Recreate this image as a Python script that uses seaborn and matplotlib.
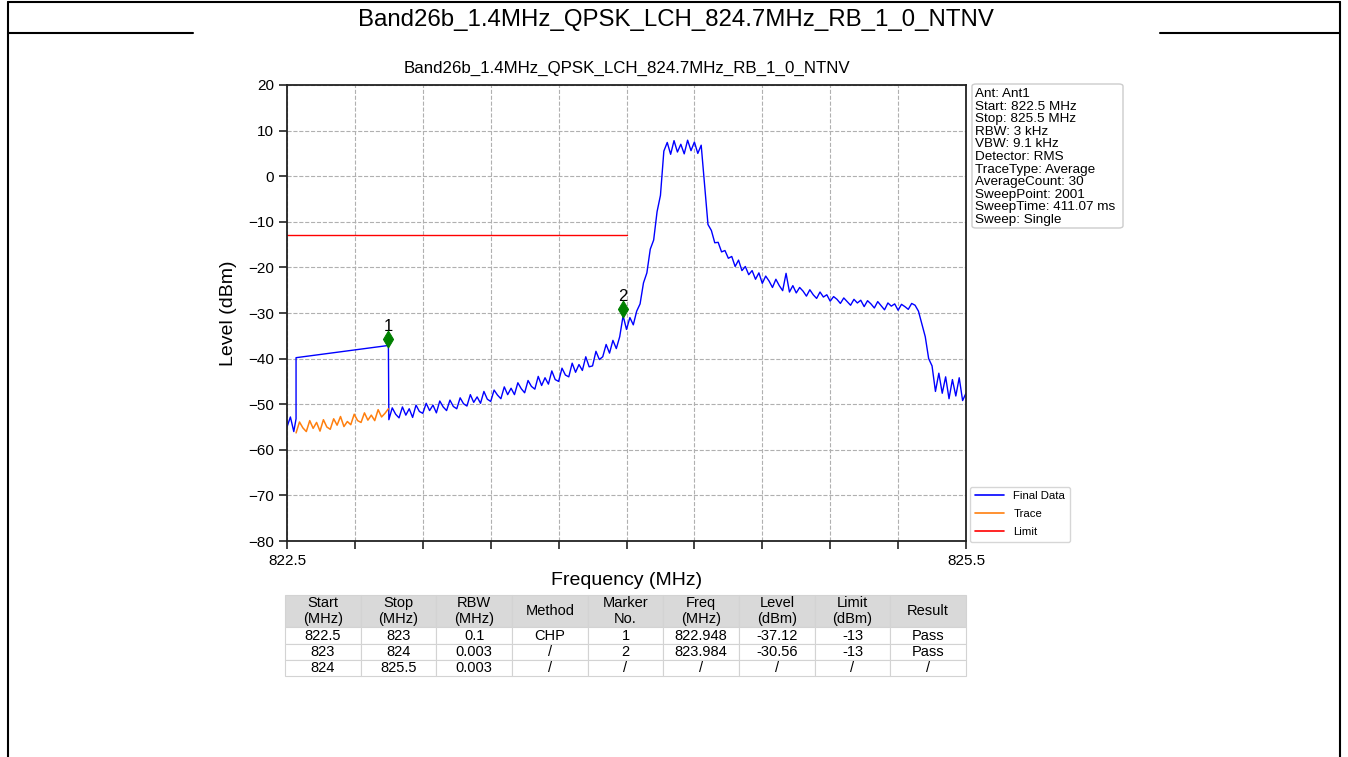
import matplotlib.pyplot as plt
import numpy as np
import pandas as pd
import seaborn as sns
from matplotlib.lines import Line2D
from matplotlib.patches import FancyBboxPatch

title = "Band26b_1.4MHz_QPSK_LCH_824.7MHz_RB_1_0_NTNV"

# final data: low edge, the CHP jump, then the swept curve
edge_freq = [822.5, 822.515, 822.53, 822.54]
edge_level = [-55.0, -52.8, -56.0, -53.2]
chp_freq = [822.54, 822.948]
chp_level = [-39.8, -37.12]
sweep_start, sweep_stop = 822.95, 825.5
sweep_level = [
    -53.4, -50.8, -52.2, -53.0, -50.6, -52.4, -51.0, -52.9, -50.2, -51.6,
    -52.0, -49.8, -51.4, -50.2, -51.9, -49.3, -50.6, -51.4, -49.1, -50.5,
    -51.0, -48.6, -49.9, -50.4, -47.9, -49.6, -48.4, -49.8, -47.2, -48.9,
    -49.4, -46.9, -48.0, -48.8, -46.2, -47.9, -46.5, -47.9, -45.3, -46.6,
    -47.5, -44.8, -46.1, -46.7, -43.9, -45.9, -44.2, -45.6, -42.7, -44.6,
    -45.0, -42.1, -43.6, -44.0, -41.0, -43.0, -41.3, -42.6, -39.6, -41.8,
    -41.6, -38.4, -40.2, -39.6, -36.9, -38.8, -36.0, -37.8, -35.2, -30.6,
    -33.6, -31.0, -32.6, -29.6, -28.0, -23.4, -21.2, -16.0, -14.0, -7.8,
    -4.2, 5.5,
    7.4, 4.8, 7.8, 5.3, 7.0, 4.9, 7.9, 5.6, 7.5, 5.0, 6.8,
    -2.0, -10.6, -11.9, -14.6, -14.5, -16.6, -16.3, -18.0,
    -17.6, -19.8, -18.4, -20.7, -19.8, -21.6, -20.7, -22.6, -21.2,
    -23.5, -21.9, -23.0, -24.4, -22.6, -24.0, -25.1, -21.3, -25.4, -24.0,
    -25.6, -24.4, -25.2, -26.3, -24.9, -26.0, -26.8, -25.4, -26.5, -26.0,
    -27.4, -26.4, -27.0, -27.9, -26.7, -27.5, -28.3, -27.0, -27.8, -27.2,
    -28.6, -27.3, -28.0, -28.9, -27.5, -28.4, -29.3, -27.8, -28.5, -28.0,
    -29.4, -28.1, -28.6, -29.2, -27.9, -28.3,
    -29.6, -32.4, -35.2, -40.0, -41.6, -47.2,
    -43.2, -47.6, -44.0, -48.8, -44.6, -48.2, -44.2, -49.2, -47.6,
]
# raw trace under the CHP segment
trace_start, trace_stop = 822.54, 822.948
trace_level = [
    -56.3, -53.9, -55.2, -56.0, -53.6, -55.3, -54.0, -55.9, -53.4, -55.0,
    -55.5, -53.2, -54.6, -52.7, -54.9, -53.8, -54.5, -52.2, -53.6, -54.0,
    -51.9, -53.5, -52.4, -53.6, -51.2, -52.8, -52.0, -51.0,
]
limit_freq = [822.5, 824.0]
limit_level = [-13, -13]

marker_no = ['1', '2']
marker_freq = [822.948, 823.984]
marker_level = [-37.12, -30.56]

info_lines = ["Ant: Ant1", "Start: 822.5 MHz", "Stop: 825.5 MHz", "RBW: 3 kHz",
              "VBW: 9.1 kHz", "Detector: RMS", "TraceType: Average",
              "AverageCount: 30", "SweepPoint: 2001", "SweepTime: 411.07 ms",
              "Sweep: Single"]

table_head = ["Start\n(MHz)", "Stop\n(MHz)", "RBW\n(MHz)", "Method", "Marker\nNo.",
              "Freq\n(MHz)", "Level\n(dBm)", "Limit\n(dBm)", "Result"]
table_rows = [
    ["822.5", "823", "0.1", "CHP", "1", "822.948", "-37.12", "-13", "Pass"],
    ["823", "824", "0.003", "/", "2", "823.984", "-30.56", "-13", "Pass"],
    ["824", "825.5", "0.003", "/", "/", "/", "/", "/", "/"],
]

final = pd.DataFrame({
    'freq': edge_freq + chp_freq + list(np.linspace(sweep_start, sweep_stop, len(sweep_level))),
    'level': edge_level + chp_level + sweep_level,
})
trace = pd.DataFrame({'freq': np.linspace(trace_start, trace_stop, len(trace_level)),
                      'level': trace_level})
limit = pd.DataFrame({'freq': limit_freq, 'level': limit_level})
markers = pd.DataFrame({'no': marker_no, 'freq': marker_freq, 'level': marker_level})
markers['shown'] = markers['level'] + 1.4

sns.set_style('ticks')
plt.rcParams['font.family'] = ['Liberation Sans', 'DejaVu Sans']
for k in ['text.color', 'axes.labelcolor', 'xtick.color', 'ytick.color']:
    plt.rcParams[k] = 'black'

W, H = 1348, 757
fig = plt.figure(figsize=(W / 100, H / 100), dpi=100)
ax = fig.add_axes([287 / W, 1 - 541 / H, 679 / W, 456 / H])

sns.lineplot(data=final, x='freq', y='level', estimator=None, sort=False,
             color='blue', lw=1.0, ax=ax)
sns.lineplot(data=trace, x='freq', y='level', estimator=None, sort=False,
             color='#ff7f0e', lw=1.1, ax=ax)
sns.lineplot(data=limit, x='freq', y='level', estimator=None, sort=False,
             color='red', lw=1.0, ax=ax)
sns.scatterplot(data=markers, x='freq', y='shown', marker='d', color='green',
                s=75, edgecolor='green', zorder=5, ax=ax)
for _, m in markers.iterrows():
    ax.text(m['freq'], m['shown'] + 1.1, m['no'], ha='center', va='bottom', fontsize=12)

ax.set_xlim(822.5, 825.5)
ax.set_ylim(-80, 20)
xt = np.linspace(822.5, 825.5, 11)
ax.set_xticks(xt)
ax.set_xticklabels(['822.5'] + [''] * 9 + ['825.5'])
ax.set_yticks(range(-80, 21, 10))
ax.tick_params(labelsize=11, length=6, width=1.2, color='#222222')
ax.grid(True, ls='--', color='#b0b0b0', lw=0.8)
for s in ax.spines.values():
    s.set_linewidth(1.3)
    s.set_color('#222222')
ax.set_xlabel('Frequency (MHz)', fontsize=14, labelpad=3)
ax.set_ylabel('Level (dBm)', fontsize=14, labelpad=8)
ax.set_title(title, fontsize=12.2, pad=9)

# settings box to the right of the plot
fig.add_artist(FancyBboxPatch((972 / W, 1 - 228 / H), 151 / W, 144 / H,
                              boxstyle='round,pad=0,rounding_size=0.003',
                              transform=fig.transFigure, fc='white', ec='#cccccc', lw=1))
for i, line in enumerate(info_lines):
    fig.text(975 / W, 1 - (88 + i * 12.6) / H, line, ha='left', va='top', fontsize=9.7)

handles = [Line2D([], [], color='blue', lw=1.2), Line2D([], [], color='#ff7f0e', lw=1.2),
           Line2D([], [], color='red', lw=1.2)]
ax.legend(handles, ['Final Data', 'Trace', 'Limit'], loc='lower left',
          bbox_to_anchor=(1.006, -0.002), borderaxespad=0, fontsize=8.2, handlelength=2.6,
          labelspacing=0.7, frameon=True, edgecolor='#cccccc', fancybox=True)

tab = ax.table(cellText=[table_head] + table_rows, cellLoc='center',
               bbox=[-0.003, -0.296, 1.003, 0.178])
tab.auto_set_font_size(False)
tab.set_fontsize(10.5)
for (r, c), cell in tab.get_celld().items():
    cell.set_edgecolor('#d3d3d3')
    cell.set_linewidth(0.8)
    if r == 0:
        cell.set_height(cell.get_height() * 2.02)
        cell.set_facecolor('#d9d9d9')

# report frame and header
fig.text(676 / W, 1 - 20 / H, title, ha='center', va='center', fontsize=17.3)
frame = [([8, 1340], [2, 2]), ([8, 8], [2, 757]), ([1340, 1340], [2, 757]),
         ([8, 193], [33, 33]), ([1160, 1340], [33, 33])]
for xs, ys in frame:
    fig.add_artist(Line2D([x / W for x in xs], [1 - y / H for y in ys],
                          transform=fig.transFigure, color='black', lw=1.5))

fig.savefig('out.png', dpi=100)
